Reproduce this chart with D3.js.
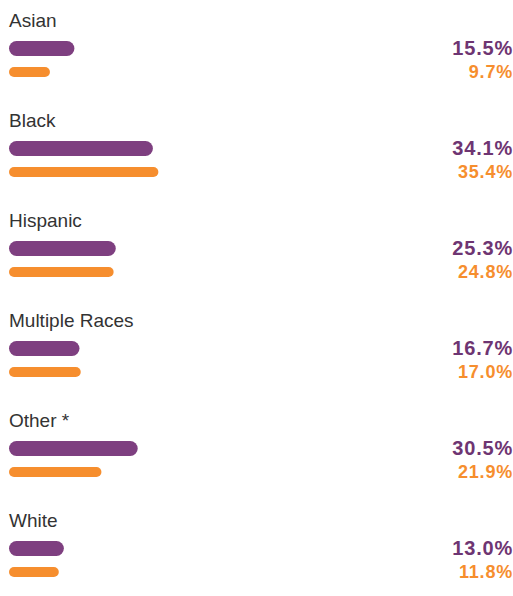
<!DOCTYPE html>
<html>
<head>
<meta charset="utf-8">
<script src="https://cdn.jsdelivr.net/npm/d3@7"></script>
<style>
  body { margin: 0; background: #fff; }
</style>
</head>
<body>
<div id="chart"></div>
<script>
// categories and the two series
const categories = ["Asian", "Black", "Hispanic", "Multiple Races", "Other *", "White"];
const purpleValues = [15.5, 34.1, 25.3, 16.7, 30.5, 13.0];
const orangeValues = [9.7, 35.4, 24.8, 17.0, 21.9, 11.8];

const width = 513, height = 596;
const purple = "#7e3f80", purpleText = "#6e3572", orange = "#f68e2e";

const svg = d3.select("#chart").append("svg")
    .attr("width", width)
    .attr("height", height)
    .attr("font-family", "'Liberation Sans', Arial, sans-serif");

const x = d3.scaleLinear().domain([0, 100]).range([9, 431]);
const y = d3.scaleBand().domain(categories).range([0, 600]);

const row = svg.selectAll("g.row")
  .data(categories.map((c, i) => ({c, p: purpleValues[i], o: orangeValues[i]})))
  .join("g")
    .attr("class", "row")
    .attr("transform", d => `translate(0,${y(d.c)})`);

row.append("text")
    .attr("x", 9)
    .attr("y", 27)
    .attr("font-size", 19)
    .attr("fill", "#333")
    .text(d => d.c);

row.append("rect")
    .attr("x", x(0))
    .attr("y", 41)
    .attr("height", 15)
    .attr("rx", 7.5)
    .attr("width", d => x(d.p) - x(0))
    .attr("fill", purple);

row.append("rect")
    .attr("x", x(0))
    .attr("y", 67)
    .attr("height", 10)
    .attr("rx", 5)
    .attr("width", d => x(d.o) - x(0))
    .attr("fill", orange);

row.append("text")
    .attr("x", 513)
    .attr("y", 55)
    .attr("text-anchor", "end")
    .attr("font-size", 20)
    .attr("font-weight", "bold")
    .attr("letter-spacing", 0.8)
    .attr("fill", purpleText)
    .text(d => d.p.toFixed(1) + "%");

row.append("text")
    .attr("x", 513)
    .attr("y", 78)
    .attr("text-anchor", "end")
    .attr("font-size", 18)
    .attr("font-weight", "bold")
    .attr("letter-spacing", 0.8)
    .attr("fill", orange)
    .text(d => d.o.toFixed(1) + "%");
</script>
</body>
</html>
